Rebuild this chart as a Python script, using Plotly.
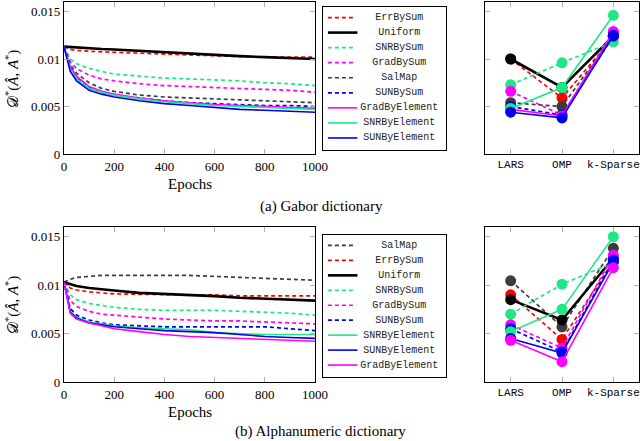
import plotly.graph_objects as go

# ---------------- data ----------------
epochs = [0, 25, 50, 100, 150, 200, 300, 400, 500, 600, 700, 800, 900, 1000]
methods = ["LARS", "OMP", "k-Sparse"]

# (a) Gabor dictionary – training curves
gabor_curves = {
    "ErrBySum":      [0.0113, 0.0110, 0.0109, 0.0108, 0.01075, 0.0107, 0.0106, 0.0105, 0.0104, 0.0103, 0.01025, 0.0102, 0.0102, 0.0102],
    "Uniform":       [0.0113, 0.01125, 0.0112, 0.0111, 0.01105, 0.0110, 0.01085, 0.0107, 0.01055, 0.0104, 0.0103, 0.0102, 0.0101, 0.0100],
    "SNRBySum":      [0.0113, 0.0100, 0.0095, 0.0090, 0.0087, 0.0084, 0.0082, 0.0080, 0.0079, 0.0078, 0.0077, 0.0075, 0.0074, 0.0072],
    "GradBySum":     [0.0113, 0.0097, 0.0090, 0.0083, 0.0079, 0.0077, 0.0074, 0.0072, 0.0071, 0.0070, 0.0069, 0.0068, 0.0067, 0.0065],
    "SalMap":        [0.0113, 0.0094, 0.0085, 0.0075, 0.0069, 0.0066, 0.0062, 0.0060, 0.0059, 0.0058, 0.0057, 0.0056, 0.0055, 0.0054],
    "SUNBySum":      [0.0113, 0.0090, 0.0080, 0.0070, 0.0065, 0.0062, 0.0059, 0.0056, 0.0054, 0.0053, 0.0052, 0.0051, 0.0051, 0.0050],
    "GradByElement": [0.0113, 0.0092, 0.0082, 0.0071, 0.0066, 0.0063, 0.0059, 0.0056, 0.0054, 0.0052, 0.0051, 0.0050, 0.0049, 0.0048],
    "SNRByElement":  [0.0113, 0.0089, 0.0079, 0.0069, 0.0065, 0.0062, 0.0058, 0.0055, 0.0053, 0.0051, 0.0050, 0.0049, 0.0048, 0.0047],
    "SUNByElement":  [0.0113, 0.0087, 0.0077, 0.0067, 0.0063, 0.0060, 0.0056, 0.0053, 0.0051, 0.0049, 0.0047, 0.0046, 0.0045, 0.0044],
}
# (a) Gabor dictionary – per method
gabor_methods = {
    "ErrBySum":      [0.0100, 0.0059, 0.0123],
    "Uniform":       [0.0100, 0.0070, 0.0124],
    "SNRBySum":      [0.0073, 0.0096, 0.0118],
    "GradBySum":     [0.0066, 0.0041, 0.0128],
    "SalMap":        [0.0054, 0.0050, 0.0125],
    "SUNBySum":      [0.0050, 0.0041, 0.0124],
    "GradByElement": [0.0047, 0.0040, 0.0129],
    "SNRByElement":  [0.0048, 0.0070, 0.0146],
    "SUNByElement":  [0.0044, 0.0038, 0.0125],
}

# (b) Alphanumeric dictionary – training curves
alpha_curves = {
    "SalMap":        [0.0103, 0.0106, 0.0108, 0.0109, 0.0110, 0.0110, 0.0110, 0.0110, 0.0110, 0.0109, 0.0108, 0.0107, 0.0106, 0.0105],
    "ErrBySum":      [0.0103, 0.0097, 0.0095, 0.0093, 0.0092, 0.0091, 0.00905, 0.0090, 0.0090, 0.0090, 0.0089, 0.0089, 0.0089, 0.0089],
    "Uniform":       [0.0103, 0.0101, 0.0099, 0.0097, 0.0096, 0.00945, 0.0092, 0.0091, 0.0090, 0.00886, 0.0087, 0.0086, 0.0085, 0.0084],
    "SNRBySum":      [0.0103, 0.0090, 0.0085, 0.0081, 0.0079, 0.0077, 0.0075, 0.0074, 0.0074, 0.0074, 0.0073, 0.0072, 0.0071, 0.0069],
    "GradBySum":     [0.0103, 0.0084, 0.0078, 0.0073, 0.0070, 0.0069, 0.0067, 0.0065, 0.0064, 0.0063, 0.0063, 0.0062, 0.0061, 0.0060],
    "SUNBySum":      [0.0103, 0.0076, 0.0069, 0.0064, 0.0061, 0.0059, 0.0058, 0.0057, 0.0057, 0.0057, 0.0057, 0.0057, 0.0055, 0.0053],
    "SNRByElement":  [0.0103, 0.0073, 0.0067, 0.0062, 0.0060, 0.0058, 0.0056, 0.0055, 0.0054, 0.0051, 0.0050, 0.0049, 0.0049, 0.0049],
    "SUNByElement":  [0.0103, 0.0072, 0.0066, 0.0061, 0.0059, 0.0057, 0.0055, 0.0053, 0.0052, 0.0051, 0.0049, 0.0047, 0.0046, 0.0045],
    "GradByElement": [0.0103, 0.0071, 0.0065, 0.0061, 0.0058, 0.0055, 0.0052, 0.0049, 0.0047, 0.0046, 0.0045, 0.0044, 0.0043, 0.0042],
}
# (b) Alphanumeric dictionary – per method
alpha_methods = {
    "SalMap":        [0.01045, 0.0057, 0.0138],
    "ErrBySum":      [0.0090, 0.0044, 0.0125],
    "Uniform":       [0.0085, 0.0064, 0.0128],
    "SNRBySum":      [0.0070, 0.0101, 0.0123],
    "GradBySum":     [0.0059, 0.0035, 0.0131],
    "SUNBySum":      [0.0055, 0.0031, 0.0126],
    "SNRByElement":  [0.0052, 0.0075, 0.0150],
    "SUNByElement":  [0.0045, 0.0030, 0.0124],
    "GradByElement": [0.0043, 0.0021, 0.0118],
}

y_ticks = [0, 0.005, 0.01, 0.015]
y_ticklabels = ["0", "0.005", "0.01", "0.015"]
x_ticks = [0, 200, 400, 600, 800, 1000]

# ---------------- styles ----------------
GREEN = "#1ee884"
style = {
    "ErrBySum":      dict(color="#ff0000", dash="4px,3px", width=1.7),
    "Uniform":       dict(color="#000000", dash="solid", width=2.6),
    "SNRBySum":      dict(color=GREEN, dash="4px,3px", width=1.7),
    "GradBySum":     dict(color="#ff00ff", dash="4px,3px", width=1.7),
    "SalMap":        dict(color="#3c3c3c", dash="4px,3px", width=1.7),
    "SUNBySum":      dict(color="#0000ff", dash="4px,3px", width=1.7),
    "GradByElement": dict(color="#ff00ff", dash="solid", width=1.6),
    "SNRByElement":  dict(color=GREEN, dash="solid", width=1.6),
    "SUNByElement":  dict(color="#0000ee", dash="solid", width=1.6),
}

SERIF = "Times New Roman, Liberation Serif, serif"
MONO = "Courier New, Liberation Mono, monospace"

fig = go.Figure()


def add_panel(curves, meth, xa_l, ya_l, xa_r, ya_r, xa_g, ya_g):
    names = list(curves.keys())
    for n in names:
        s = style[n]
        fig.add_trace(go.Scatter(x=epochs, y=curves[n], mode="lines", name=n,
                                 line=dict(color=s["color"], dash=s["dash"], width=s["width"]),
                                 xaxis=xa_l, yaxis=ya_l, showlegend=False, hoverinfo="skip"))
    for n in names:
        s = style[n]
        fig.add_trace(go.Scatter(x=methods, y=meth[n], mode="lines+markers", name=n,
                                 line=dict(color=s["color"], dash=s["dash"], width=s["width"]),
                                 marker=dict(color=s["color"], size=11),
                                 xaxis=xa_r, yaxis=ya_r, showlegend=False, hoverinfo="skip"))
    # legend drawn as its own small subplot
    for i, n in enumerate(names):
        s = style[n]
        x_end = 0.28 if s["dash"] == "solid" else 0.25
        fig.add_trace(go.Scatter(x=[0.04, x_end], y=[i, i], mode="lines",
                                 line=dict(color=s["color"], dash=s["dash"], width=s["width"]),
                                 xaxis=xa_g, yaxis=ya_g, showlegend=False, hoverinfo="skip"))
    fig.add_trace(go.Scatter(x=[0.62] * len(names), y=list(range(len(names))), mode="text",
                             text=names, textposition="middle center",
                             textfont=dict(family=MONO, size=10, color="#222222"),
                             xaxis=xa_g, yaxis=ya_g, showlegend=False, hoverinfo="skip"))


add_panel(gabor_curves, gabor_methods, "x", "y", "x2", "y2", "x3", "y3")
add_panel(alpha_curves, alpha_methods, "x4", "y4", "x5", "y5", "x6", "y6")

W, H = 640, 441


def dx(a, b):
    return [a / W, b / W]


def dy(top, bottom):
    return [(H - bottom) / H, (H - top) / H]


def px(x):
    return x / W


def py(y):
    return (H - y) / H


frame = dict(showline=True, linecolor="black", linewidth=1.2, mirror="ticks",
             ticks="inside", ticklen=5, tickcolor="#b0b0b0", showgrid=False, zeroline=False,
             automargin=False)

top_y, top_b = 2, 154
bot_y, bot_b = 227, 382

layout = dict(
    width=W, height=H, margin=dict(l=0, r=0, t=0, b=0, pad=0, autoexpand=False),
    paper_bgcolor="white", plot_bgcolor="white", showlegend=False,
    font=dict(family=SERIF, size=13, color="black"),
)

for k, (t, b) in {"": (top_y, top_b), "4": (bot_y, bot_b)}.items():
    layout["xaxis" + k] = dict(frame, domain=dx(64, 315), range=[0, 1000], tickvals=x_ticks,
                               tickfont=dict(family=SERIF, size=13), anchor="y" + k)
    layout["yaxis" + k] = dict(frame, domain=dy(t, b), range=[0, 0.016],
                               tickvals=y_ticks, ticktext=y_ticklabels,
                               tickfont=dict(family=SERIF, size=13), anchor="x" + k)

for xk, (t, b) in [("2", (top_y, top_b)), ("5", (bot_y, bot_b))]:
    layout["xaxis" + xk] = dict(frame, domain=dx(485, 639), type="category",
                                range=[-0.5, 2.5], tickfont=dict(family=MONO, size=11),
                                anchor="y" + xk)
    layout["yaxis" + xk] = dict(frame, domain=dy(t, b), range=[0, 0.016],
                                tickvals=y_ticks, showticklabels=False, anchor="x" + xk)

for xk, (t, b) in [("3", (7, 150)), ("6", (235, 377))]:
    legend_axis = dict(showline=True, mirror=True, linecolor="black", linewidth=1.2,
                       showticklabels=False, ticks="", showgrid=False, zeroline=False,
                       fixedrange=True, automargin=False)
    layout["xaxis" + xk] = dict(legend_axis, domain=dx(323, 446), range=[0, 1], anchor="y" + xk)
    layout["yaxis" + xk] = dict(legend_axis, domain=dy(t, b), range=[8.8, -0.7], anchor="x" + xk)

ytitle = "𝒟<sup>*</sup>(<i>Â</i>, <i>A</i><sup>*</sup>)"
ann = dict(xref="paper", yref="paper", xanchor="center", yanchor="middle", showarrow=False)
layout["annotations"] = [
    dict(ann, text=ytitle, x=px(12), y=py(79), textangle=-90, font=dict(family=SERIF, size=15)),
    dict(ann, text=ytitle, x=px(12), y=py(305), textangle=-90, font=dict(family=SERIF, size=15)),
    dict(ann, text="Epochs", x=px(190), y=py(184), font=dict(family=SERIF, size=15)),
    dict(ann, text="Epochs", x=px(190), y=py(412), font=dict(family=SERIF, size=15)),
    dict(ann, text="(a) Gabor dictionary", x=px(321), y=py(206), font=dict(family=SERIF, size=15)),
    dict(ann, text="(b) Alphanumeric dictionary", x=px(320), y=py(431), font=dict(family=SERIF, size=15)),
]

fig.update_layout(**layout)
# remove the default page margin so the 640x441 figure fills the window exactly
fig.write_html("out.html", config={"displayModeBar": False},
               post_script="document.body.style.margin='0';document.body.style.padding='0';"
                           "document.body.style.overflow='hidden';")
